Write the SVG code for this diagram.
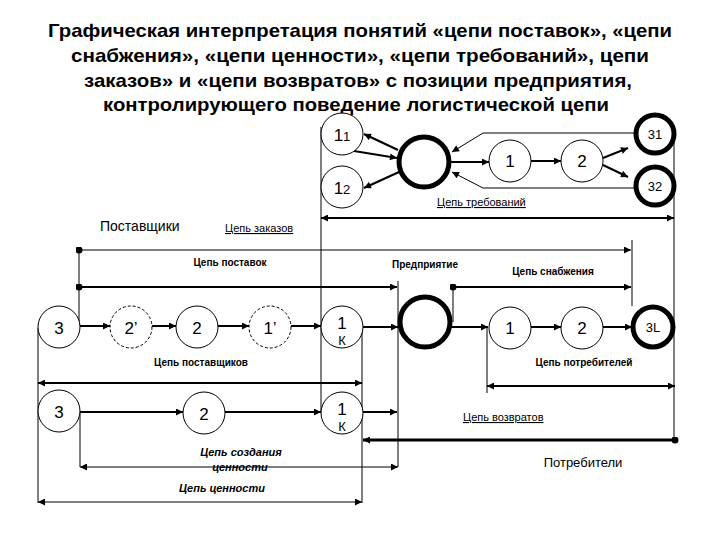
<svg xmlns="http://www.w3.org/2000/svg" width="720" height="540" viewBox="0 0 720 540">
<style>
text{font-family:"Liberation Sans",Arial,sans-serif;fill:#000}
.title{font-size:19px;font-weight:bold;text-anchor:middle}
.n{fill:#fff;stroke:#000;stroke-width:1}
.d{stroke-dasharray:3,2}
.t{fill:#fff;stroke:#000;stroke-width:5}
.lab{font-size:17px;text-anchor:middle}
.sm{font-size:13px;text-anchor:middle}
.b{font-size:10px;font-weight:bold;text-anchor:middle}
.u{font-size:11px;text-decoration:underline}
.i{font-size:11px;font-style:italic;font-weight:bold;text-anchor:middle}
#conn line,#conn polyline{stroke:#000;fill:none;stroke-width:1}
#conn .w2{stroke-width:2}
#conn .w3{stroke-width:3}
</style>
<defs>
<marker id="a" viewBox="0 0 10 10" refX="10" refY="5" markerWidth="8" markerHeight="7" markerUnits="userSpaceOnUse" orient="auto"><path d="M0,0L10,5L0,10z" fill="#000"/></marker>
<marker id="s" viewBox="0 0 10 10" refX="0" refY="5" markerWidth="8" markerHeight="7" markerUnits="userSpaceOnUse" orient="auto"><path d="M10,0L0,5L10,10z" fill="#000"/></marker>
<marker id="dot" viewBox="0 0 10 10" refX="5" refY="5" markerWidth="7" markerHeight="7" markerUnits="userSpaceOnUse"><circle cx="5" cy="5" r="5" fill="#000"/></marker>
</defs>
<rect width="720" height="540" fill="#fff"/>
<g id="title">
<text class="title" x="360" y="37" textLength="624" lengthAdjust="spacingAndGlyphs">Графическая интерпретация понятий «цепи поставок», «цепи</text>
<text class="title" x="360" y="62" textLength="578" lengthAdjust="spacingAndGlyphs">снабжения», «цепи ценности», «цепи требований», цепи</text>
<text class="title" x="358" y="87" textLength="548" lengthAdjust="spacingAndGlyphs">заказов» и «цепи возвратов» с позиции предприятия,</text>
<text class="title" x="356" y="111" textLength="506" lengthAdjust="spacingAndGlyphs">контролирующего поведение логистической цепи</text>
</g>
<g id="conn">
<!-- top -->
<line x1="398" y1="150" x2="364" y2="134" class="w2" marker-end="url(#a)"/>
<line x1="354" y1="151" x2="397" y2="158" class="w2" marker-end="url(#a)"/>
<line x1="399" y1="172" x2="364" y2="188" class="w2" marker-end="url(#a)"/>
<polyline points="636,133 483,133 452,152" marker-end="url(#a)"/>
<polyline points="636,188 483,188 452,172" marker-end="url(#a)"/>
<line x1="451" y1="162" x2="489" y2="162" class="w2" marker-end="url(#a)"/>
<line x1="531" y1="161" x2="561" y2="161" class="w2" marker-end="url(#a)"/>
<line x1="603" y1="158" x2="628" y2="148" class="w2" marker-end="url(#a)"/>
<line x1="603" y1="165" x2="628" y2="177" class="w2" marker-end="url(#a)"/>
<line x1="674" y1="134" x2="674" y2="440"/>
<line x1="321" y1="127" x2="321" y2="413"/>
<line x1="321" y1="218" x2="674" y2="218" class="w2" marker-start="url(#s)" marker-end="url(#a)"/>
<!-- middle brackets -->
<line x1="79" y1="250" x2="631" y2="250" marker-start="url(#dot)" marker-end="url(#a)"/>
<line x1="632" y1="240" x2="632" y2="306"/>
<line x1="79" y1="287" x2="397" y2="287" class="w2" marker-start="url(#dot)" marker-end="url(#a)"/>
<line x1="398" y1="281" x2="398" y2="467"/>
<line x1="453" y1="287" x2="631" y2="287" class="w2" marker-start="url(#dot)" marker-end="url(#a)"/>
<line x1="453" y1="287" x2="453" y2="322"/>
<line x1="79" y1="250" x2="79" y2="326"/>
<!-- middle row -->
<line x1="79" y1="326" x2="110" y2="326" class="w2" marker-end="url(#a)"/>
<line x1="152" y1="326" x2="176" y2="326" class="w2" marker-end="url(#a)"/>
<line x1="218" y1="326" x2="249" y2="326" class="w2" marker-end="url(#a)"/>
<line x1="291" y1="326" x2="321" y2="326" class="w2" marker-end="url(#a)"/>
<line x1="363" y1="327" x2="398" y2="327" class="w2" marker-end="url(#a)"/>
<line x1="451" y1="327" x2="488" y2="327" class="w2" marker-end="url(#a)"/>
<line x1="531" y1="327" x2="561" y2="327" class="w2" marker-end="url(#a)"/>
<line x1="603" y1="327" x2="632" y2="327" class="w2" marker-end="url(#a)"/>
<line x1="487" y1="327" x2="487" y2="393"/>
<line x1="487" y1="386" x2="675" y2="386" class="w2" marker-start="url(#s)" marker-end="url(#a)"/>
<line x1="362" y1="327" x2="362" y2="503"/>
<line x1="38" y1="383" x2="362" y2="383" class="w2" marker-start="url(#s)" marker-end="url(#a)"/>
<line x1="38" y1="328" x2="38" y2="503"/>
<!-- bottom row -->
<line x1="80" y1="412" x2="183" y2="412" class="w2" marker-end="url(#a)"/>
<line x1="225" y1="412" x2="321" y2="412" class="w2" marker-end="url(#a)"/>
<line x1="363" y1="412" x2="397" y2="412" class="w2" marker-end="url(#a)"/>
<line x1="80" y1="412" x2="80" y2="467"/>
<line x1="80" y1="467" x2="398" y2="467" marker-start="url(#s)" marker-end="url(#a)"/>
<line x1="675" y1="440" x2="363" y2="440" class="w3" marker-start="url(#dot)" marker-end="url(#a)"/>
<line x1="38" y1="502" x2="362" y2="502" marker-start="url(#s)" marker-end="url(#a)"/>
</g>
<g id="n11"><circle class="n" cx="342" cy="134" r="21"/><text class="lab" x="342" y="141"><tspan>1</tspan><tspan font-size="13">1</tspan></text></g>
<g id="n12"><circle class="n" cx="342" cy="187" r="21"/><text class="lab" x="342" y="194"><tspan>1</tspan><tspan font-size="13">2</tspan></text></g>
<g id="ent1"><circle class="t" cx="424" cy="162" r="25"/></g>
<g id="t1"><circle class="n" cx="510" cy="161" r="21"/><text class="lab" x="510" y="167">1</text></g>
<g id="t2"><circle class="n" cx="582" cy="161" r="21"/><text class="lab" x="582" y="167">2</text></g>
<g id="n31"><circle class="t" cx="655" cy="134" r="19"/><text class="sm" x="655" y="139">31</text></g>
<g id="n32"><circle class="t" cx="655" cy="186" r="19"/><text class="sm" x="655" y="191">32</text></g>
<g id="m3"><circle class="n" cx="59" cy="327" r="21"/><text class="lab" x="59" y="334">3</text></g>
<g id="m2p"><circle class="n d" cx="131" cy="327" r="21"/><text class="lab" x="131" y="334">2’</text></g>
<g id="m2"><circle class="n" cx="197" cy="327" r="21"/><text class="lab" x="197" y="334">2</text></g>
<g id="m1p"><circle class="n d" cx="270" cy="327" r="21"/><text class="lab" x="270" y="334">1’</text></g>
<g id="m1k"><circle class="n" cx="342" cy="327" r="21"/><text class="lab" x="342" y="329">1</text><text class="sm" x="342" y="345" font-size="11">К</text></g>
<g id="ent2"><circle class="t" cx="425" cy="322" r="25"/></g>
<g id="c1"><circle class="n" cx="510" cy="328" r="21"/><text class="lab" x="510" y="334">1</text></g>
<g id="c2"><circle class="n" cx="582" cy="328" r="21"/><text class="lab" x="582" y="334">2</text></g>
<g id="c3l"><circle class="t" cx="653" cy="327" r="20"/><text class="sm" x="653" y="332" font-size="12">3L</text></g>
<g id="b3"><circle class="n" cx="59" cy="411" r="21"/><text class="lab" x="59" y="418">3</text></g>
<g id="b2"><circle class="n" cx="204" cy="413" r="21"/><text class="lab" x="204" y="420">2</text></g>
<g id="b1k"><circle class="n" cx="342" cy="413" r="21"/><text class="lab" x="342" y="415">1</text><text class="sm" x="342" y="431" font-size="11">К</text></g>
<g id="labels">
<text class="u" x="437" y="206">Цепь требований</text>
<text x="100" y="231" font-size="14">Поставщики</text>
<text class="u" x="225" y="232">Цепь заказов</text>
<text class="b" x="230" y="266">Цепь поставок</text>
<text class="b" x="425" y="268">Предприятие</text>
<text class="b" x="553" y="275">Цепь снабжения</text>
<text class="b" x="201" y="366">Цепь поставщиков</text>
<text class="b" x="584" y="366">Цепь потребителей</text>
<text class="u" x="463" y="421">Цепь возвратов</text>
<text x="583" y="467" font-size="13" text-anchor="middle">Потребители</text>
<text class="i" x="241" y="456">Цепь создания</text>
<text class="i" x="240" y="471">ценности</text>
<text class="i" x="222" y="492">Цепь ценности</text>
</g>
</svg>
